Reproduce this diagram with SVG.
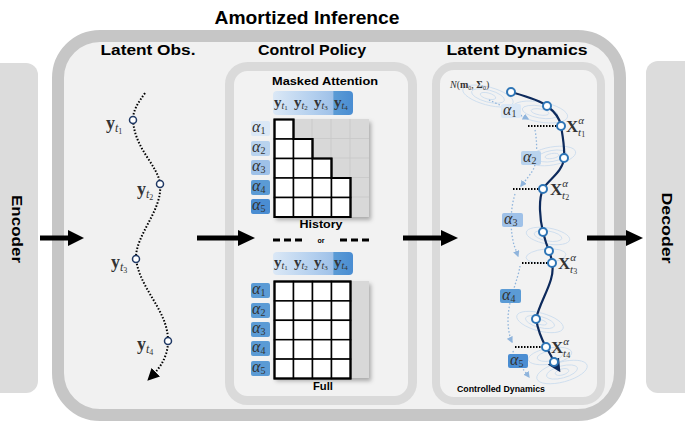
<svg xmlns="http://www.w3.org/2000/svg" width="685" height="425" viewBox="0 0 685 425">
<style>
.h{font-family:"Liberation Sans","DejaVu Sans",sans-serif;font-weight:bold;fill:#000;text-anchor:middle}
.m{font-family:"Liberation Serif","DejaVu Serif",serif;fill:#333}
.b{font-weight:bold}
.i{font-style:italic}
.cell{fill:#fff;stroke:#000;stroke-width:1.5}
.pt{fill:#fff;stroke:#1f3864;stroke-width:1.5}
.dp{fill:#fff;stroke:#2e75b6;stroke-width:2}
.ell{fill:none;stroke:#c9dbee;stroke-width:0.8}
.ctl{fill:none;stroke:#8fb4dc;stroke-width:1.3;stroke-dasharray:1.5 2}
.hd{fill:none;stroke:#000;stroke-width:2;stroke-dasharray:1.5 1.5}
</style>
<defs>
<linearGradient id="hbar" x1="0" x2="1" y1="0" y2="0">
<stop offset="0" stop-color="#dbe8f6"/><stop offset="0.5" stop-color="#b3cfee"/><stop offset="0.75" stop-color="#9fc1e8"/><stop offset="0.76" stop-color="#5b9bd5"/><stop offset="1" stop-color="#4a8dd2"/>
</linearGradient>
<filter id="sh" x="-10%" y="-10%" width="130%" height="130%"><feDropShadow dx="2" dy="3" stdDeviation="2" flood-color="#000" flood-opacity="0.3"/></filter>
<marker id="ab" viewBox="0 0 10 10" refX="8" refY="5" markerWidth="6" markerHeight="6" orient="auto"><path d="M0,0 L10,5 L0,10 z" fill="#000"/></marker>
<marker id="an" viewBox="0 0 10 10" refX="8" refY="5" markerWidth="6" markerHeight="6" orient="auto"><path d="M0,0 L10,5 L0,10 z" fill="#0d2a5c"/></marker>
<marker id="al" viewBox="0 0 10 10" refX="8" refY="5" markerWidth="5" markerHeight="5" orient="auto"><path d="M0,0 L10,5 L0,10 z" fill="#8fb4dc"/></marker>
</defs>
<rect width="685" height="425" fill="#fff"/>

<g id="encoder">
<rect x="-12" y="63" width="50" height="330" rx="12" fill="#dcdcdc"/>
<text class="h" transform="translate(16.5,229) rotate(90)" y="5" font-size="14" textLength="68" lengthAdjust="spacingAndGlyphs">Encoder</text>
</g>
<g id="decoder">
<rect x="646" y="61" width="60" height="332" rx="12" fill="#dcdcdc"/>
<text class="h" transform="translate(666.5,228) rotate(90)" y="5" font-size="14" textLength="71" lengthAdjust="spacingAndGlyphs">Decoder</text>
</g>

<g id="amortized">
<rect x="58" y="36" width="562" height="379" rx="42" fill="#f1f1f1" stroke="#c6c6c6" stroke-width="12"/>
<text class="h" x="307" y="24" font-size="19" textLength="185" lengthAdjust="spacingAndGlyphs">Amortized Inference</text>
<text class="h" x="148" y="55" font-size="15" textLength="95" lengthAdjust="spacingAndGlyphs">Latent Obs.</text>
<text class="h" x="312" y="55" font-size="15" textLength="108" lengthAdjust="spacingAndGlyphs">Control Policy</text>
<text class="h" x="517" y="55" font-size="15" textLength="141" lengthAdjust="spacingAndGlyphs">Latent Dynamics</text>
</g>

<g id="latent-obs">
<path d="M145,93 C138,103 133,110 133,120 C135,150 158,165 160,184 C163,210 135,235 136,259 C140,290 168,310 168,341 C168,360 156,372 149,379" fill="none" stroke="#000" stroke-width="2" stroke-dasharray="1.5 1.8" marker-end="url(#ab)"/>
<circle class="pt" cx="133" cy="120" r="3.5"/>
<circle class="pt" cx="160" cy="184" r="3.5"/>
<circle class="pt" cx="136" cy="259" r="3.5"/>
<circle class="pt" cx="168" cy="341" r="3.5"/>
<text class="m" x="106" y="129" font-size="18"><tspan class="b">y</tspan><tspan class="i" font-size="12" dy="3">t</tspan><tspan font-size="8" dy="2">1</tspan></text>
<text class="m" x="137" y="195" font-size="18"><tspan class="b">y</tspan><tspan class="i" font-size="12" dy="3">t</tspan><tspan font-size="8" dy="2">2</tspan></text>
<text class="m" x="111" y="268" font-size="18"><tspan class="b">y</tspan><tspan class="i" font-size="12" dy="3">t</tspan><tspan font-size="8" dy="2">3</tspan></text>
<text class="m" x="137" y="350" font-size="18"><tspan class="b">y</tspan><tspan class="i" font-size="12" dy="3">t</tspan><tspan font-size="8" dy="2">4</tspan></text>
</g>

<g id="control-policy">
<rect x="229.5" y="66.5" width="183" height="334" rx="18" fill="#f2f2f2" stroke="#dadada" stroke-width="9"/>
<text class="h" x="325" y="85" font-size="11" textLength="106" lengthAdjust="spacingAndGlyphs">Masked Attention</text>
<rect x="273" y="91" width="80" height="24" rx="4" fill="url(#hbar)"/>
<g class="m" font-size="15">
<text x="274" y="107"><tspan class="b">y</tspan><tspan class="i" font-size="10" dy="2">t</tspan><tspan font-size="7" dy="1">1</tspan></text>
<text x="294" y="107"><tspan class="b">y</tspan><tspan class="i" font-size="10" dy="2">t</tspan><tspan font-size="7" dy="1">2</tspan></text>
<text x="314" y="107"><tspan class="b">y</tspan><tspan class="i" font-size="10" dy="2">t</tspan><tspan font-size="7" dy="1">3</tspan></text>
<text x="334" y="107"><tspan class="b">y</tspan><tspan class="i" font-size="10" dy="2">t</tspan><tspan font-size="7" dy="1">4</tspan></text>
</g>
<rect x="274" y="119" width="95" height="98" fill="#d8d8d8" filter="url(#sh)"/>
<g stroke="#c8c8c8" stroke-width="0.8">
<line x1="293" y1="119" x2="293" y2="217"/><line x1="312" y1="119" x2="312" y2="217"/><line x1="331" y1="119" x2="331" y2="217"/><line x1="350" y1="119" x2="350" y2="217"/>
<line x1="274" y1="138.5" x2="369" y2="138.5"/><line x1="274" y1="158" x2="369" y2="158"/><line x1="274" y1="177.5" x2="369" y2="177.5"/><line x1="274" y1="197" x2="369" y2="197"/>
</g>
<g>
<rect class="cell" x="274.5" y="119.5" width="19" height="19.5"/>
<rect class="cell" x="274.5" y="139" width="19" height="19.5"/><rect class="cell" x="293.5" y="139" width="19" height="19.5"/>
<rect class="cell" x="274.5" y="158.5" width="19" height="19.5"/><rect class="cell" x="293.5" y="158.5" width="19" height="19.5"/><rect class="cell" x="312.5" y="158.5" width="19" height="19.5"/>
<rect class="cell" x="274.5" y="178" width="19" height="19.5"/><rect class="cell" x="293.5" y="178" width="19" height="19.5"/><rect class="cell" x="312.5" y="178" width="19" height="19.5"/><rect class="cell" x="331.5" y="178" width="19" height="19.5"/>
<rect class="cell" x="274.5" y="197.5" width="19" height="19.5"/><rect class="cell" x="293.5" y="197.5" width="19" height="19.5"/><rect class="cell" x="312.5" y="197.5" width="19" height="19.5"/><rect class="cell" x="331.5" y="197.5" width="19" height="19.5"/>
<path d="M274.5,119.5 H293.5 V139 H312.5 V158.5 H331.5 V178 H350.5 V217 H274.5 Z" fill="none" stroke="#000" stroke-width="2.2"/>
</g>
<g class="m" font-size="16">
<rect x="251" y="121" width="19" height="15" rx="2" fill="#dbe8f6"/><text x="252" y="132" class="i">α<tspan font-size="10" font-style="normal" dy="2">1</tspan></text>
<rect x="251" y="141" width="19" height="15" rx="2" fill="#b9d3ee"/><text x="252" y="152" class="i">α<tspan font-size="10" font-style="normal" dy="2">2</tspan></text>
<rect x="251" y="160" width="19" height="15" rx="2" fill="#9fc1e8"/><text x="252" y="171" class="i">α<tspan font-size="10" font-style="normal" dy="2">3</tspan></text>
<rect x="251" y="180" width="19" height="15" rx="2" fill="#5b9bd5"/><text x="252" y="191" class="i">α<tspan font-size="10" font-style="normal" dy="2">4</tspan></text>
<rect x="251" y="199" width="19" height="15" rx="2" fill="#4a8dd2"/><text x="252" y="210" class="i">α<tspan font-size="10" font-style="normal" dy="2">5</tspan></text>
</g>
<text class="h" x="321" y="228" font-size="11" textLength="43" lengthAdjust="spacingAndGlyphs">History</text>
<line x1="273" y1="240" x2="302" y2="240" stroke="#000" stroke-width="3" stroke-dasharray="7 4"/>
<line x1="340" y1="240" x2="369" y2="240" stroke="#000" stroke-width="3" stroke-dasharray="7 4"/>
<text class="h" x="321" y="243" font-size="7">or</text>
<rect x="273" y="252" width="80" height="23" rx="4" fill="url(#hbar)"/>
<g class="m" font-size="15">
<text x="274" y="267"><tspan class="b">y</tspan><tspan class="i" font-size="10" dy="2">t</tspan><tspan font-size="7" dy="1">1</tspan></text>
<text x="294" y="267"><tspan class="b">y</tspan><tspan class="i" font-size="10" dy="2">t</tspan><tspan font-size="7" dy="1">2</tspan></text>
<text x="314" y="267"><tspan class="b">y</tspan><tspan class="i" font-size="10" dy="2">t</tspan><tspan font-size="7" dy="1">3</tspan></text>
<text x="334" y="267"><tspan class="b">y</tspan><tspan class="i" font-size="10" dy="2">t</tspan><tspan font-size="7" dy="1">4</tspan></text>
</g>
<rect x="274" y="281" width="95" height="97" fill="#d8d8d8" filter="url(#sh)"/>
<g>
<rect class="cell" x="274.5" y="281.5" width="19" height="19.4"/><rect class="cell" x="293.5" y="281.5" width="19" height="19.4"/><rect class="cell" x="312.5" y="281.5" width="19" height="19.4"/><rect class="cell" x="331.5" y="281.5" width="19" height="19.4"/>
<rect class="cell" x="274.5" y="300.9" width="19" height="19.4"/><rect class="cell" x="293.5" y="300.9" width="19" height="19.4"/><rect class="cell" x="312.5" y="300.9" width="19" height="19.4"/><rect class="cell" x="331.5" y="300.9" width="19" height="19.4"/>
<rect class="cell" x="274.5" y="320.3" width="19" height="19.4"/><rect class="cell" x="293.5" y="320.3" width="19" height="19.4"/><rect class="cell" x="312.5" y="320.3" width="19" height="19.4"/><rect class="cell" x="331.5" y="320.3" width="19" height="19.4"/>
<rect class="cell" x="274.5" y="339.7" width="19" height="19.4"/><rect class="cell" x="293.5" y="339.7" width="19" height="19.4"/><rect class="cell" x="312.5" y="339.7" width="19" height="19.4"/><rect class="cell" x="331.5" y="339.7" width="19" height="19.4"/>
<rect class="cell" x="274.5" y="359.1" width="19" height="19.4"/><rect class="cell" x="293.5" y="359.1" width="19" height="19.4"/><rect class="cell" x="312.5" y="359.1" width="19" height="19.4"/><rect class="cell" x="331.5" y="359.1" width="19" height="19.4"/>
<rect x="274.5" y="281.5" width="76" height="97" fill="none" stroke="#000" stroke-width="2.2"/>
</g>
<g class="m" font-size="16">
<rect x="251" y="283" width="19" height="15" rx="2" fill="#5b9bd5"/><text x="252" y="294" class="i">α<tspan font-size="10" font-style="normal" dy="2">1</tspan></text>
<rect x="251" y="303" width="19" height="15" rx="2" fill="#5b9bd5"/><text x="252" y="314" class="i">α<tspan font-size="10" font-style="normal" dy="2">2</tspan></text>
<rect x="251" y="322" width="19" height="15" rx="2" fill="#5b9bd5"/><text x="252" y="333" class="i">α<tspan font-size="10" font-style="normal" dy="2">3</tspan></text>
<rect x="251" y="341" width="19" height="15" rx="2" fill="#5b9bd5"/><text x="252" y="352" class="i">α<tspan font-size="10" font-style="normal" dy="2">4</tspan></text>
<rect x="251" y="361" width="19" height="15" rx="2" fill="#5b9bd5"/><text x="252" y="372" class="i">α<tspan font-size="10" font-style="normal" dy="2">5</tspan></text>
</g>
<text class="h" x="323" y="390" font-size="11" textLength="20" lengthAdjust="spacingAndGlyphs">Full</text>
</g>

<g id="latent-dynamics">
<rect x="436" y="66" width="165" height="335" rx="18" fill="#f2f2f2" stroke="#dadada" stroke-width="8"/>
<g class="ell">
<ellipse cx="488" cy="96" rx="26" ry="9" transform="rotate(15 488 96)"/><ellipse cx="488" cy="96" rx="17" ry="6" transform="rotate(15 488 96)"/><ellipse cx="488" cy="96" rx="8" ry="3" transform="rotate(15 488 96)"/>
<ellipse cx="540" cy="112" rx="28" ry="10" transform="rotate(10 540 112)"/><ellipse cx="540" cy="112" rx="18" ry="6" transform="rotate(10 540 112)"/><ellipse cx="540" cy="112" rx="9" ry="3" transform="rotate(10 540 112)"/>
<ellipse cx="552" cy="156" rx="24" ry="9" transform="rotate(-10 552 156)"/><ellipse cx="552" cy="156" rx="15" ry="5.5" transform="rotate(-10 552 156)"/><ellipse cx="552" cy="156" rx="7" ry="2.5" transform="rotate(-10 552 156)"/>
<ellipse cx="548" cy="236" rx="22" ry="8" transform="rotate(10 548 236)"/><ellipse cx="548" cy="236" rx="14" ry="5" transform="rotate(10 548 236)"/>
<ellipse cx="546" cy="256" rx="20" ry="7" transform="rotate(-5 546 256)"/>
<ellipse cx="540" cy="322" rx="24" ry="9" transform="rotate(15 540 322)"/><ellipse cx="540" cy="322" rx="15" ry="5.5" transform="rotate(15 540 322)"/><ellipse cx="540" cy="322" rx="7" ry="2.5" transform="rotate(15 540 322)"/>
<ellipse cx="550" cy="356" rx="22" ry="8" transform="rotate(-10 550 356)"/><ellipse cx="550" cy="356" rx="13" ry="5" transform="rotate(-10 550 356)"/>
<ellipse cx="562" cy="372" rx="26" ry="10" transform="rotate(-15 562 372)"/><ellipse cx="562" cy="372" rx="16" ry="6" transform="rotate(-15 562 372)"/><ellipse cx="562" cy="372" rx="7" ry="3" transform="rotate(-15 562 372)"/>
</g>
<text x="450" y="88" font-size="10" font-family="'Liberation Serif','DejaVu Serif',serif" fill="#333"><tspan font-style="italic">N</tspan>(<tspan font-weight="bold">m</tspan><tspan font-size="6" dy="2">0</tspan><tspan dy="-2">, </tspan><tspan font-weight="bold">Σ</tspan><tspan font-size="6" dy="2">0</tspan><tspan dy="-2">)</tspan></text>
<path d="M511,92 C525,96 540,100 547,106 C555,112 560,118 561,126 C563,138 565,148 564,158 C563,172 548,180 543,189 C538,200 540,220 543,232 C545,240 547,246 549,251 C551,256 552,260 552,263 C556,280 540,300 536,319 C538,330 542,340 546,347 C549,352 552,357 554,362 L559,370" fill="none" stroke="#0d2a5c" stroke-width="2.2" marker-end="url(#an)"/>
<g class="hd">
<line x1="528" y1="126" x2="557" y2="126"/>
<line x1="513" y1="189" x2="539" y2="189"/>
<line x1="522" y1="263" x2="548" y2="263"/>
<line x1="515" y1="347" x2="542" y2="347"/>
</g>
<g>
<circle class="dp" cx="511" cy="92" r="4"/>
<circle class="dp" cx="547" cy="106" r="4"/>
<circle class="dp" cx="561" cy="126" r="4"/>
<circle class="dp" cx="564" cy="158" r="4"/>
<circle class="dp" cx="543" cy="189" r="4"/>
<circle class="dp" cx="543" cy="232" r="4"/>
<circle class="dp" cx="549" cy="251" r="4"/>
<circle class="dp" cx="552" cy="263" r="4"/>
<circle class="dp" cx="536" cy="319" r="4"/>
<circle class="dp" cx="546" cy="347" r="4"/>
<circle class="dp" cx="554" cy="362" r="4"/>
</g>
<g class="ctl">
<path d="M489,100 C500,105 515,112 528,119" marker-end="url(#al)"/>
<path d="M535,130 C537,140 538,160 533,170 C528,178 524,182 521,186" marker-end="url(#al)"/>
<path d="M515,194 C510,210 510,230 514,245 L518,256" marker-end="url(#al)"/>
<path d="M520,266 C518,280 508,300 508,320 C508,330 510,338 512,342" marker-end="url(#al)"/>
<path d="M513,351 C515,360 524,370 529,377" marker-end="url(#al)"/>
</g>
<g class="m" font-size="16">
<rect x="501" y="104" width="20" height="14" rx="2" fill="#dbe8f6"/><text x="503" y="115" class="i">α<tspan font-size="10" font-style="normal" dy="2">1</tspan></text>
<rect x="521" y="151" width="20" height="14" rx="2" fill="#b9d3ee"/><text x="523" y="162" class="i">α<tspan font-size="10" font-style="normal" dy="2">2</tspan></text>
<rect x="502" y="213" width="21" height="14" rx="2" fill="#9fc1e8"/><text x="504" y="224" class="i">α<tspan font-size="10" font-style="normal" dy="2">3</tspan></text>
<rect x="500" y="289" width="21" height="14" rx="2" fill="#5b9bd5"/><text x="502" y="300" class="i">α<tspan font-size="10" font-style="normal" dy="2">4</tspan></text>
<rect x="508" y="354" width="20" height="14" rx="2" fill="#4a8dd2"/><text x="510" y="365" class="i">α<tspan font-size="10" font-style="normal" dy="2">5</tspan></text>
</g>
<g class="m" font-size="17">
<text x="566" y="132"><tspan class="b">X</tspan><tspan class="i" font-size="11" dy="-8">α</tspan><tspan class="i" font-size="11" dx="-6" dy="12">t</tspan><tspan font-size="8" dy="1">1</tspan></text>
<text x="550" y="195"><tspan class="b">X</tspan><tspan class="i" font-size="11" dy="-8">α</tspan><tspan class="i" font-size="11" dx="-6" dy="12">t</tspan><tspan font-size="8" dy="1">2</tspan></text>
<text x="558" y="269"><tspan class="b">X</tspan><tspan class="i" font-size="11" dy="-8">α</tspan><tspan class="i" font-size="11" dx="-6" dy="12">t</tspan><tspan font-size="8" dy="1">3</tspan></text>
<text x="551" y="353"><tspan class="b">X</tspan><tspan class="i" font-size="11" dy="-8">α</tspan><tspan class="i" font-size="11" dx="-6" dy="12">t</tspan><tspan font-size="8" dy="1">4</tspan></text>
</g>
<text class="h" x="501" y="392" font-size="9" textLength="88" lengthAdjust="spacingAndGlyphs">Controlled Dynamics</text>
</g>

<g id="connectors" stroke="#000" stroke-width="5" fill="none">
<line x1="40" y1="238" x2="70" y2="238"/>
<path d="M68,230 L84,238 L68,246 Z" fill="#000" stroke="none"/>
<line x1="197" y1="238" x2="240" y2="238"/>
<path d="M238,230 L255,238 L238,246 Z" fill="#000" stroke="none"/>
<line x1="403" y1="238" x2="443" y2="238"/>
<path d="M441,230 L458,238 L441,246 Z" fill="#000" stroke="none"/>
<line x1="587" y1="238" x2="628" y2="238"/>
<path d="M626,230 L643,238 L626,246 Z" fill="#000" stroke="none"/>
</g>
</svg>
